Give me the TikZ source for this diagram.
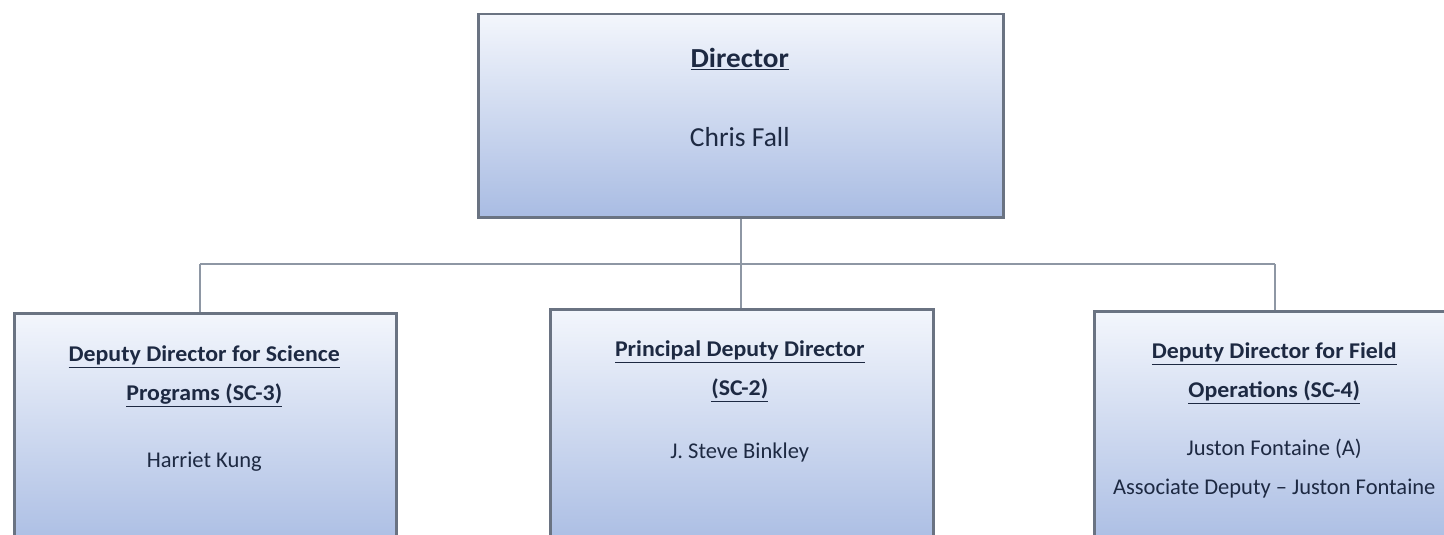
\documentclass[tikz,border=0pt]{standalone}
\usepackage{fontspec}
\setmainfont{Carlito}[BoldFeatures={FakeStretch=1.06}]
\usetikzlibrary{positioning}
\definecolor{boxline}{HTML}{6A7382}
\definecolor{linkline}{HTML}{8E97A4}
\definecolor{boxtop}{HTML}{F3F6FC}
\definecolor{boxbot}{HTML}{A9BCE3}
\definecolor{inktext}{HTML}{1D2942}
\newcommand{\ttl}[1]{\textbf{\underline{#1}}}

\begin{document}
\begin{tikzpicture}[x=1pt,y=-1pt]
    \tikzset{orgbox/.style={draw=boxline,line width=2.5pt,top color=boxtop,bottom color=boxbot,
                            anchor=north west,inner sep=0pt},
             orgtext/.style={text=inktext,align=center,inner sep=0pt,font=\fontsize{22.5}{39}\selectfont},
             link/.style={draw=linkline,line width=2.5pt}}
    \useasboundingbox (0,0) rectangle (1444,535);
    \clip (0,0) rectangle (1444,535);
    % boxes
    \node[orgbox,minimum width=525pt,minimum height=203pt] (DIR) at (477,13) {};
    \node[orgbox,minimum width=382pt,minimum height=240pt] (SCI) at (13,312) {};
    \node[orgbox,minimum width=383pt,minimum height=240pt] (PDD) at (549,308) {};
    \node[orgbox,minimum width=400pt,minimum height=240pt] (OPS) at (1093,310) {};
    % texts
    \node[orgtext,font=\fontsize{27.5}{44}\selectfont,below=35pt of DIR.north,xshift=-1pt] (DIRt)
        {\ttl{Director}\\[35pt]Chris Fall};
    \node[orgtext,below=34pt of SCI.north,xshift=-1pt] (SCIt)
        {\ttl{Deputy Director for Science}\\\ttl{Programs (SC-3)}\\[28pt]Harriet Kung};
    \node[orgtext,below=33pt of PDD.north,xshift=-2pt] (PDDt)
        {\ttl{Principal Deputy Director}\\\ttl{(SC-2)}\\[24pt]J. Steve Binkley};
    \node[orgtext,below=33pt of OPS.north,xshift=-20pt] (OPSt)
        {\ttl{Deputy Director for Field}\\\ttl{Operations (SC-4)}\\[19pt]Juston Fontaine (A)\\Associate Deputy -- Juston Fontaine};
    % connectors
    \coordinate (busL) at (200,264);
    \coordinate (busR) at (1275,264);
    \draw[link] (DIR.south) -- (DIR.south |- busL);
    \draw[link] (busL) -- (busR);
    \draw[link] (busL) -- (busL |- SCI.north);
    \draw[link] (DIR.south |- busL) -- (DIR.south |- PDD.north);
    \draw[link] (busR) -- (busR |- OPS.north);
\end{tikzpicture}
\end{document}
